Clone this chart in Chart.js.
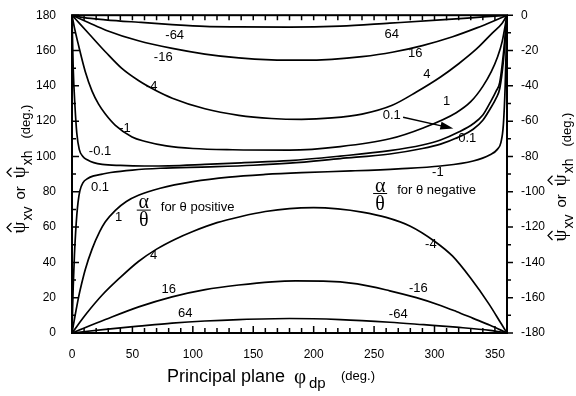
<!DOCTYPE html>
<html>
<head>
<meta charset="utf-8">
<script src="https://cdn.jsdelivr.net/npm/chart.js@4.4.1/dist/chart.umd.min.js"></script>
<style>
html, body { margin: 0; padding: 0; background: #fff; }
</style>
</head>
<body>
<canvas id="psiChart" width="576" height="396"></canvas>
<script>
// tick labels
var xTicks = [0, 50, 100, 150, 200, 250, 300, 350];
var yTicks = [0, 20, 40, 60, 80, 100, 120, 140, 160, 180];
var y2Ticks = [0, -20, -40, -60, -80, -100, -120, -140, -160, -180];

// curves that start at psi = 180 (alpha/theta = -64 ... -0.1 for theta positive)
var t64Phi = [0, 10, 27.6, 55, 82.8, 110, 138, 180, 222, 263, 305, 330, 350, 360];
var t64Psi = [180, 178.6, 177.4, 176, 174.7, 173.7, 173.4, 173.2, 173.8, 175.5, 177.3, 178.5, 179.5, 180];

var t16Phi = [0, 14, 28, 55, 83, 110, 138, 165, 190, 215, 240, 265, 290, 315, 335, 350, 360];
var t16Psi = [180, 175.7, 171.5, 165.5, 161.2, 158, 155.8, 154.7, 154.5, 155, 156.5, 159, 162.8, 167.8, 172.8, 177, 180];

var t4Phi = [0, 6, 14, 28, 41, 55, 69, 83, 110, 138, 165, 190, 215, 240, 265, 285, 305, 320, 335, 348, 356, 360];
var t4Psi = [180, 175.5, 169.5, 159, 150, 143, 137.5, 133, 127, 123.3, 121.5, 121, 121.8, 124, 129, 136.5, 145, 152.5, 161, 170, 175.5, 180];

var t1Phi = [0, 2, 5.5, 11, 16.6, 22, 27.6, 35.9, 49.7, 60, 78, 100, 133, 180, 222, 263, 290, 318, 330, 340, 347, 352, 356, 360];
var t1Psi = [180, 173, 162.7, 148, 137, 129.6, 124, 117.6, 111, 108.6, 106, 104.5, 103.8, 103.6, 105.6, 110, 116, 124.8, 131, 139.7, 148, 156, 165, 180];

var t01Phi = [0, 1, 2.5, 4, 6, 9, 13, 18, 25, 40, 60, 80, 110, 140, 180, 222, 263, 290, 305, 320, 332, 340, 346, 351, 354, 357, 360];
var t01Psi = [180, 150, 128, 113, 104, 100, 98, 96.5, 95.5, 94.9, 94.6, 94.7, 95.5, 96.4, 97.6, 100.2, 103.3, 106.5, 109.3, 113.8, 118.5, 123.5, 130.5, 137, 142, 158, 180];

// curves that start at psi = 0 (alpha/theta = 0.1 ... 64 for theta positive)
var b01Phi = [0, 0.5, 1, 2, 3, 4, 5, 6.5, 9, 13, 18, 25, 32, 50, 73, 114, 150, 180, 222, 263, 290, 305, 320, 332, 340, 346, 351, 354, 357, 360];
var b01Psi = [0, 14, 26, 44, 57, 67, 74, 80.5, 85, 87.5, 89, 90, 90.9, 92.3, 93.3, 94.1, 95, 96.2, 98.8, 101.4, 104.5, 107, 111, 115.4, 120.5, 126.9, 133, 138.5, 154, 180];

var b1Phi = [0, 3, 5.5, 8, 11, 16.6, 23, 27.6, 35.9, 45, 55, 73, 100, 130, 160, 190, 231, 270, 305, 332, 346, 352, 355, 357, 358.5, 360];
var b1Psi = [0, 11.5, 20.5, 28, 36, 47.5, 57.5, 63, 69.5, 74.5, 78, 82, 85.7, 88.3, 89.8, 90.8, 91.8, 93, 94.6, 97.4, 101, 104, 108, 118, 140, 180];

var b4Phi = [0, 12, 25, 40, 55, 70, 85, 100, 120, 140, 160, 180, 200, 220, 240, 260, 280, 300, 315, 330, 345, 355, 360];
var b4Psi = [0, 11, 21.5, 31.5, 40.5, 47.5, 53, 57.5, 62.5, 66, 68.8, 70.5, 71, 70.3, 68.5, 65.5, 60.5, 52, 43.5, 31, 16.5, 5.5, 0];

var b16Phi = [0, 27.6, 55.2, 82.8, 110.3, 138, 165.5, 185, 208, 236, 263, 285, 305, 318, 332, 346, 360];
var b16Psi = [0, 7.6, 14.8, 20.5, 24.6, 27.2, 29, 29.5, 29.4, 27.8, 23.9, 20, 15.6, 12.2, 8.3, 4.4, 0];

var b64Phi = [0, 27.6, 55.2, 82.8, 110, 138, 180, 222, 263, 291, 318, 346, 360];
var b64Psi = [0, 2.1, 3.9, 5.6, 6.8, 7.6, 8.2, 7.6, 6.1, 4.7, 3.3, 1.5, 0];

var curves = [
    [t64Phi, t64Psi], [t16Phi, t16Psi], [t4Phi, t4Psi], [t1Phi, t1Psi], [t01Phi, t01Psi],
    [b01Phi, b01Psi], [b1Phi, b1Psi], [b4Phi, b4Psi], [b16Phi, b16Psi], [b64Phi, b64Psi]
];

// curve labels: text, phi, psi (left axis units)
var curveLabels = [
    ['-64', 85, 168.4], ['-16', 75.5, 156.3], ['-4', 66, 139.7], ['-1', 43.9, 115.8],
    ['-0.1', 23.2, 102.9], ['0.1', 23.2, 82.7], ['1', 38.6, 65.2], ['4', 67.6, 44],
    ['16', 80, 24.7], ['64', 93.8, 11.2],
    ['64', 264.6, 169.1], ['16', 284, 158.1], ['4', 293.6, 146.2], ['1', 310, 131.4],
    ['0.1', 264.6, 123.1], ['-0.1', 325.3, 110.3], ['-1', 302.8, 91],
    ['-4', 297, 50.4], ['-16', 286.7, 25.2], ['-64', 270, 10.5]
];
var arrowFrom = [274, 122.2];
var arrowTo = [315.6, 115.8];
var fractions = [[59.4, 69.6, 'for \u03b8 positive'], [255, 79, 'for \u03b8 negative']];

var annotate = {
    id: 'annotate',
    afterDatasetsDraw: function (chart) {
        var ctx = chart.ctx, a = chart.chartArea;
        var x = chart.scales.x, y = chart.scales.y, y2 = chart.scales.y2;
        ctx.save();
        ctx.strokeStyle = '#000';
        ctx.fillStyle = '#000';

        // frame and tick marks
        ctx.lineWidth = 2;
        ctx.strokeRect(a.left, a.top, a.right - a.left, a.bottom - a.top);
        ctx.lineWidth = 1.5;
        ctx.beginPath();
        for (var v = 0; v <= 360; v += 10) {
            var px = x.getPixelForValue(v);
            var len = v % 50 === 0 ? 7 : 5;
            ctx.moveTo(px, a.bottom); ctx.lineTo(px, a.bottom - len);
            ctx.moveTo(px, a.top); ctx.lineTo(px, a.top + 5);
        }
        for (var w = 0; w <= 180; w += 10) {
            var py = y.getPixelForValue(w);
            var l2 = w % 20 === 0 ? 7 : 4;
            ctx.moveTo(a.left, py); ctx.lineTo(a.left + l2, py);
            var py2 = y2.getPixelForValue(-w);
            ctx.moveTo(a.right, py2); ctx.lineTo(a.right + (w % 20 === 0 ? 6 : 4), py2);
        }
        ctx.stroke();

        // curve labels
        ctx.font = '13px "Liberation Sans", Arial, sans-serif';
        ctx.textAlign = 'center';
        ctx.textBaseline = 'middle';
        curveLabels.forEach(function (c) {
            ctx.fillText(c[0], x.getPixelForValue(c[1]), y.getPixelForValue(c[2]));
        });

        // arrow
        var x0 = x.getPixelForValue(arrowFrom[0]), y0 = y.getPixelForValue(arrowFrom[1]);
        var x1 = x.getPixelForValue(arrowTo[0]), y1 = y.getPixelForValue(arrowTo[1]);
        var ang = Math.atan2(y1 - y0, x1 - x0);
        ctx.lineWidth = 1.3;
        ctx.beginPath();
        ctx.moveTo(x0, y0);
        ctx.lineTo(x1 - 10 * Math.cos(ang), y1 - 10 * Math.sin(ang));
        ctx.stroke();
        ctx.beginPath();
        ctx.moveTo(x1, y1);
        ctx.lineTo(x1 - 13 * Math.cos(ang) + 4 * Math.sin(ang), y1 - 13 * Math.sin(ang) - 4 * Math.cos(ang));
        ctx.lineTo(x1 - 13 * Math.cos(ang) - 4 * Math.sin(ang), y1 - 13 * Math.sin(ang) + 4 * Math.cos(ang));
        ctx.closePath();
        ctx.fill();

        // alpha over theta
        fractions.forEach(function (f) {
            var fx = x.getPixelForValue(f[0]), fy = y.getPixelForValue(f[1]);
            ctx.font = '20px "Liberation Serif", serif';
            ctx.textAlign = 'center';
            ctx.textBaseline = 'alphabetic';
            ctx.fillText('\u03b1', fx, fy - 2);
            ctx.fillText('\u03b8', fx, fy + 16);
            ctx.lineWidth = 1;
            ctx.beginPath();
            ctx.moveTo(fx - 7, fy); ctx.lineTo(fx + 7, fy);
            ctx.stroke();
            ctx.font = '13px "Liberation Sans", Arial, sans-serif';
            ctx.textAlign = 'left';
            ctx.textBaseline = 'middle';
            ctx.fillText(f[2], fx + 17, fy - 3);
        });
        ctx.restore();
    },
    afterDraw: function (chart) {
        var ctx = chart.ctx;
        ctx.save();
        ctx.fillStyle = '#000';
        ctx.strokeStyle = '#000';
        ctx.textAlign = 'left';
        ctx.textBaseline = 'alphabetic';

        // x axis title
        ctx.font = '18px "Liberation Sans", Arial, sans-serif';
        ctx.fillText('Principal plane', 167, 382);
        ctx.font = '21px "Liberation Serif", serif';
        ctx.fillText('\u03c6', 294, 383);
        ctx.font = '15px "Liberation Sans", Arial, sans-serif';
        ctx.fillText('dp', 309, 388);
        ctx.font = '13px "Liberation Sans", Arial, sans-serif';
        ctx.fillText('(deg.)', 341, 380);

        // y axis titles (rotated)
        function psiTitle(xBase, yCenter) {
            var parts = [
                ['\u03c8', '19px "Liberation Serif", serif', 0, true, 1],
                ['xv', '14px "Liberation Sans", Arial, sans-serif', 7, false, 7],
                ['or', '15px "Liberation Sans", Arial, sans-serif', 0, false, 8],
                ['\u03c8', '19px "Liberation Serif", serif', 0, true, 1],
                ['xh', '14px "Liberation Sans", Arial, sans-serif', 7, false, 12],
                ['(deg.)', '13px "Liberation Sans", Arial, sans-serif', 5, false, 0]
            ];
            var total = 0;
            parts.forEach(function (p) { ctx.font = p[1]; total += ctx.measureText(p[0]).width + p[4]; });
            ctx.save();
            ctx.translate(xBase, yCenter + total / 2);
            ctx.rotate(-Math.PI / 2);
            var u = 0;
            parts.forEach(function (p) {
                ctx.font = p[1];
                var wd = ctx.measureText(p[0]).width;
                ctx.fillText(p[0], u, p[2]);
                if (p[3]) {
                    ctx.lineWidth = 1.2;
                    ctx.beginPath();
                    ctx.moveTo(u + wd / 2 - 4.5, -13.5);
                    ctx.lineTo(u + wd / 2, -18);
                    ctx.lineTo(u + wd / 2 + 4.5, -13.5);
                    ctx.stroke();
                }
                u += wd + p[4];
            });
            ctx.restore();
        }
        psiTitle(25, 169);
        psiTitle(566, 177);
        ctx.restore();
    }
};

var el = document.getElementById('psiChart').getContext('2d');
var psiChart = new Chart(el, {
    type: 'line',
    data: {
        datasets: curves.map(function (c) {
            return {
                data: c[0].map(function (p, i) { return { x: p, y: c[1][i] }; }),
                borderColor: '#000',
                borderWidth: 1.7,
                pointRadius: 0,
                fill: false,
                cubicInterpolationMode: 'monotone',
                yAxisID: 'y'
            };
        })
    },
    options: {
        responsive: false,
        animation: false,
        layout: { padding: { top: 7 } },
        plugins: { legend: { display: false }, tooltip: { enabled: false } },
        scales: {
            x: {
                type: 'linear',
                min: 0,
                max: 360,
                grid: { display: false },
                border: { display: false },
                afterBuildTicks: function (s) { s.ticks = xTicks.map(function (v) { return { value: v }; }); },
                afterFit: function (s) { s.height = 63; },
                ticks: { color: '#000', padding: 6, maxRotation: 0, font: { family: '"Liberation Sans", Arial', size: 12 } }
            },
            y: {
                position: 'left',
                min: 0,
                max: 180,
                grid: { display: false },
                border: { display: false },
                afterBuildTicks: function (s) { s.ticks = yTicks.map(function (v) { return { value: v }; }); },
                afterFit: function (s) { s.width = 72; },
                ticks: { color: '#000', padding: 8, font: { family: '"Liberation Sans", Arial', size: 12 } }
            },
            y2: {
                position: 'right',
                min: -180,
                max: 0,
                grid: { display: false },
                border: { display: false },
                afterBuildTicks: function (s) { s.ticks = y2Ticks.map(function (v) { return { value: v }; }); },
                afterFit: function (s) { s.width = 69; },
                ticks: { color: '#000', padding: 6, font: { family: '"Liberation Sans", Arial', size: 12 } }
            }
        }
    },
    plugins: [annotate]
});
</script>
</body>
</html>
